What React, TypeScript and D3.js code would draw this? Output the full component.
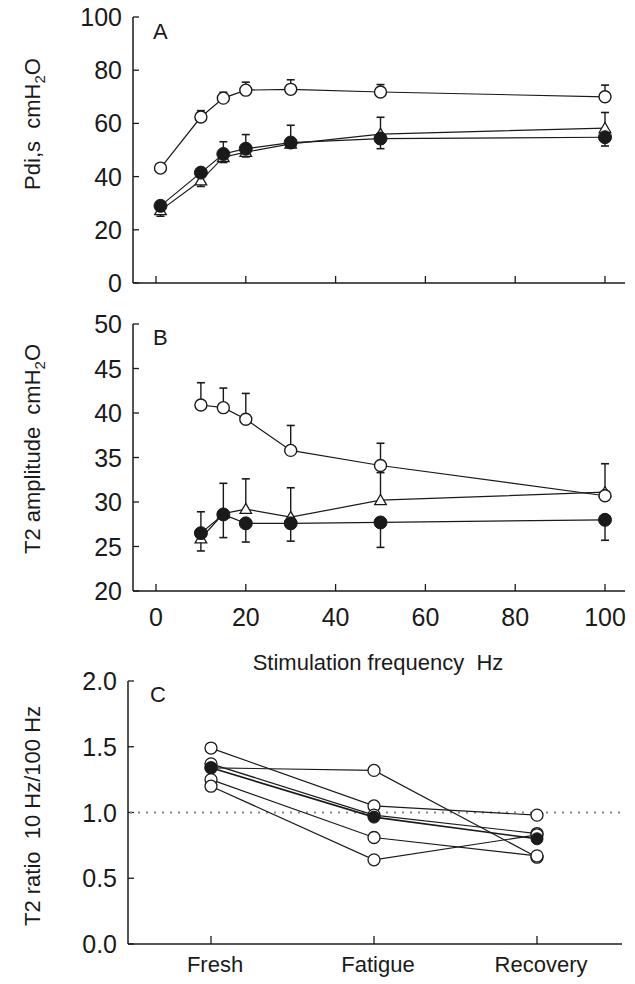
import React from "react";
import * as d3 from "d3";

// ---------- Data ----------
const freqA = [1, 10, 15, 20, 30, 50, 100];
const aOpen = [43.2, 62.4, 69.5, 72.5, 72.8, 71.8, 70.0];
const aOpenErrUp = [0, 2.4, 2.2, 3.0, 3.6, 2.8, 4.4];
const aFilled = [29.0, 41.5, 48.5, 50.5, 52.8, 54.3, 54.8];
const aFilledErrUp = [0, 0, 4.6, 5.3, 6.5, 8.0, 9.3];
const aFilledErrDown = [0, 0, 0, 0, 0, 3.8, 3.3];
const aTri = [27.3, 38.5, 47.3, 49.2, 52.3, 56.0, 58.2];
const aTriErrDown = [2.2, 2.2, 2.0, 1.8, 1.5, 0, 0];

const freqB = [10, 15, 20, 30, 50, 100];
const bOpen = [40.9, 40.6, 39.3, 35.8, 34.1, 30.7];
const bOpenErrUp = [2.5, 2.2, 2.9, 2.8, 2.5, 3.6];
const bFilled = [26.5, 28.6, 27.6, 27.6, 27.7, 28.0];
const bFilledErrUp = [2.4, 3.5, 0, 0, 0, 0];
const bFilledErrDown = [2.0, 2.6, 2.1, 2.0, 2.8, 2.3];
const bTri = [25.9, 28.7, 29.2, 28.3, 30.2, 31.1];
const bTriErrUp = [0, 0, 3.4, 3.3, 3.1, 0];

const conditions = ["Fresh", "Fatigue", "Recovery"];
const subj1 = [1.49, 1.05, 0.98];
const subj2 = [1.37, 0.98, 0.84];
const subj3 = [1.34, 1.32, 0.66];
const subj4 = [1.25, 0.81, 0.67];
const subj5 = [1.2, 0.64, 0.83];
const cMean = [1.34, 0.965, 0.8];

const ticksA = [0, 20, 40, 60, 80, 100];
const ticksB = [20, 25, 30, 35, 40, 45, 50];
const ticksC = [0, 0.5, 1.0, 1.5, 2.0];
const ticksX = [0, 20, 40, 60, 80, 100];

// ---------- Layout ----------
const W = 635;
const H = 984;
const FONT = "'Liberation Sans', Arial, Helvetica, sans-serif";
const NFONT = "'Liberation Sans Narrow', 'Arial Narrow', 'Liberation Sans', Arial, sans-serif";
const INK = "#1a1a1a";

const x = d3.scaleLinear().domain([0, 100]).range([156, 605]);
const yA = d3.scaleLinear().domain([0, 100]).range([283, 17]);
const yB = d3.scaleLinear().domain([20, 50]).range([591, 324]);
const xC = d3.scalePoint<string>().domain(conditions).range([211, 537]);
const yC = d3.scaleLinear().domain([0, 2]).range([944, 681]);

const R = 6;
const triPath = d3.symbol().type(d3.symbolTriangle).size(58)() as string;

function ErrBars({ xs, ys, up, down, xScale, yScale }: any) {
  const items: any[] = [];
  xs.forEach((xv: number, i: number) => {
    const px = xScale(xv);
    const py = yScale(ys[i]);
    if (up && up[i] > 0) {
      const t = yScale(ys[i] + up[i]);
      items.push(<line key={"u" + i} x1={px} x2={px} y1={py} y2={t} stroke={INK} strokeWidth={1.4} />);
      items.push(<line key={"uc" + i} x1={px - 4} x2={px + 4} y1={t} y2={t} stroke={INK} strokeWidth={1.6} />);
    }
    if (down && down[i] > 0) {
      const b = yScale(ys[i] - down[i]);
      items.push(<line key={"d" + i} x1={px} x2={px} y1={py} y2={b} stroke={INK} strokeWidth={1.4} />);
      items.push(<line key={"dc" + i} x1={px - 4} x2={px + 4} y1={b} y2={b} stroke={INK} strokeWidth={1.6} />);
    }
  });
  return <g>{items}</g>;
}

function Series({ xs, ys, xScale, yScale }: any) {
  const line = d3
    .line<number>()
    .x((_, i) => xScale(xs[i]))
    .y((d) => yScale(d));
  return <path d={line(ys) as string} fill="none" stroke={INK} strokeWidth={1.2} />;
}

function Markers({ xs, ys, xScale, yScale, kind }: any) {
  return (
    <g>
      {ys.map((v: number, i: number) => {
        const px = xScale(xs[i]);
        const py = yScale(v);
        if (kind === "open")
          return <circle key={i} cx={px} cy={py} r={R} fill="#fff" stroke={INK} strokeWidth={1.4} />;
        if (kind === "filled")
          return <circle key={i} cx={px} cy={py} r={R + 0.5} fill={INK} stroke={INK} strokeWidth={1} />;
        return (
          <path key={i} d={triPath} transform={`translate(${px},${py + 1})`} fill="#fff" stroke={INK} strokeWidth={1.3} />
        );
      })}
    </g>
  );
}

function YAxis({ scale, ticks, axX, fmt, top, bottom }: any) {
  return (
    <g>
      <line x1={axX} x2={axX} y1={top} y2={bottom} stroke={INK} strokeWidth={1.5} />
      {ticks.map((t: number) => (
        <g key={t}>
          <line x1={axX} x2={axX + 6} y1={scale(t)} y2={scale(t)} stroke={INK} strokeWidth={1.3} />
          <text x={axX - 11} y={scale(t) + 9} textAnchor="end" fontSize={25} fontFamily={NFONT} fill={INK}>
            {fmt(t)}
          </text>
        </g>
      ))}
    </g>
  );
}

function XAxisLin({ y0, axX, labels }: any) {
  return (
    <g>
      <line x1={axX} x2={625} y1={y0} y2={y0} stroke={INK} strokeWidth={1.5} />
      {ticksX.map((t) => (
        <g key={t}>
          <line x1={x(t)} x2={x(t)} y1={y0} y2={y0 - 7} stroke={INK} strokeWidth={1.3} />
          {labels && (
            <text x={x(t)} y={y0 + 35} textAnchor="middle" fontSize={25} fontFamily={NFONT} fill={INK}>
              {t}
            </text>
          )}
        </g>
      ))}
    </g>
  );
}

function YLabel({ cx, cy, parts }: any) {
  return (
    <text
      transform={`translate(${cx},${cy}) rotate(-90)`}
      textAnchor="middle"
      fontSize={22}
      fontFamily={FONT}
      fill={INK}
      style={{ whiteSpace: "pre" }}
    >
      <tspan>{parts[0]}</tspan>
      <tspan fontSize={15} dy={5}>
        2
      </tspan>
      <tspan dy={-5}>O</tspan>
    </text>
  );
}

export default function App() {
  const subjects = [subj1, subj2, subj3, subj4, subj5];
  const lineC = d3
    .line<number>()
    .x((_, i) => xC(conditions[i]) as number)
    .y((d) => yC(d));
  const xCf = (c: string) => xC(c) as number;

  return (
    <svg
      width={W}
      height={H}
      style={{ position: "absolute", left: 0, top: 0, background: "#fff" }}
      fontFamily={FONT}
    >
      <rect x={0} y={0} width={W} height={H} fill="#fff" />

      {/* ---------- Panel A ---------- */}
      <YAxis scale={yA} ticks={ticksA} axX={133} fmt={(t: number) => String(t)} top={17} bottom={283} />
      <XAxisLin y0={283} axX={133} labels={false} />
      <text x={153} y={39} fontSize={22} fontFamily={FONT} fill={INK}>A</text>
      <YLabel cx={40} cy={124} parts={["Pdi,s  cmH"]} />

      <Series xs={freqA} ys={aOpen} xScale={x} yScale={yA} />
      <Series xs={freqA} ys={aFilled} xScale={x} yScale={yA} />
      <Series xs={freqA} ys={aTri} xScale={x} yScale={yA} />
      <ErrBars xs={freqA} ys={aOpen} up={aOpenErrUp} xScale={x} yScale={yA} />
      <ErrBars xs={freqA} ys={aFilled} up={aFilledErrUp} down={aFilledErrDown} xScale={x} yScale={yA} />
      <ErrBars xs={freqA} ys={aTri} down={aTriErrDown} xScale={x} yScale={yA} />
      <Markers xs={freqA} ys={aTri} xScale={x} yScale={yA} kind="tri" />
      <Markers xs={freqA} ys={aFilled} xScale={x} yScale={yA} kind="filled" />
      <Markers xs={freqA} ys={aOpen} xScale={x} yScale={yA} kind="open" />

      {/* ---------- Panel B ---------- */}
      <YAxis scale={yB} ticks={ticksB} axX={133} fmt={(t: number) => String(t)} top={324} bottom={591} />
      <XAxisLin y0={591} axX={133} labels={true} />
      <text x={153} y={345} fontSize={22} fontFamily={FONT} fill={INK}>B</text>
      <YLabel cx={40} cy={449} parts={["T2 amplitude  cmH"]} />
      <text x={378} y={670} textAnchor="middle" fontSize={22} fontFamily={FONT} fill={INK} style={{ whiteSpace: "pre" }}>
        {"Stimulation frequency  Hz"}
      </text>

      <Series xs={freqB} ys={bOpen} xScale={x} yScale={yB} />
      <Series xs={freqB} ys={bFilled} xScale={x} yScale={yB} />
      <Series xs={freqB} ys={bTri} xScale={x} yScale={yB} />
      <ErrBars xs={freqB} ys={bOpen} up={bOpenErrUp} xScale={x} yScale={yB} />
      <ErrBars xs={freqB} ys={bFilled} up={bFilledErrUp} down={bFilledErrDown} xScale={x} yScale={yB} />
      <ErrBars xs={freqB} ys={bTri} up={bTriErrUp} xScale={x} yScale={yB} />
      <Markers xs={freqB} ys={bTri} xScale={x} yScale={yB} kind="tri" />
      <Markers xs={freqB} ys={bFilled} xScale={x} yScale={yB} kind="filled" />
      <Markers xs={freqB} ys={bOpen} xScale={x} yScale={yB} kind="open" />

      {/* ---------- Panel C ---------- */}
      <YAxis scale={yC} ticks={ticksC} axX={128} fmt={(t: number) => t.toFixed(1)} top={681} bottom={944} />
      <line x1={128} x2={622} y1={944} y2={944} stroke={INK} strokeWidth={1.5} />
      {conditions.map((c) => (
        <g key={c}>
          <line x1={xCf(c)} x2={xCf(c)} y1={944} y2={936} stroke={INK} strokeWidth={1.3} />
          <text x={xCf(c) + 4} y={972} textAnchor="middle" fontSize={22} fontFamily={FONT} fill={INK}>
            {c}
          </text>
        </g>
      ))}
      <text x={150} y={702} fontSize={22} fontFamily={FONT} fill={INK}>C</text>
      <text
        transform={`translate(40,816) rotate(-90)`}
        textAnchor="middle"
        fontSize={22}
        fontFamily={FONT}
        fill={INK}
        style={{ whiteSpace: "pre" }}
      >
        {"T2 ratio  10 Hz/100 Hz"}
      </text>
      <line
        x1={130}
        x2={625}
        y1={yC(1)}
        y2={yC(1)}
        stroke="#888"
        strokeWidth={2}
        strokeDasharray="2,6"
      />
      {subjects.map((s, i) => (
        <path key={i} d={lineC(s) as string} fill="none" stroke={INK} strokeWidth={1.2} />
      ))}
      <path d={lineC(cMean) as string} fill="none" stroke={INK} strokeWidth={1.6} />
      {subjects.map((s, i) => (
        <g key={i}>
          {s.map((v, j) => (
            <circle key={j} cx={xCf(conditions[j])} cy={yC(v)} r={R} fill="#fff" stroke={INK} strokeWidth={1.3} />
          ))}
        </g>
      ))}
      {cMean.map((v, j) => (
        <circle key={j} cx={xCf(conditions[j])} cy={yC(v)} r={R} fill={INK} stroke={INK} strokeWidth={1} />
      ))}
    </svg>
  );
}
